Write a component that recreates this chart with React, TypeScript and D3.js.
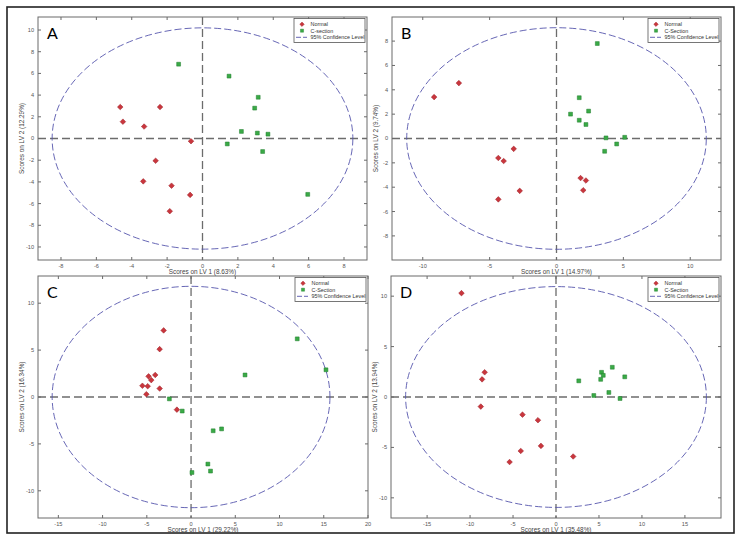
import React from "react";
import * as d3 from "d3";

// ---- data ----
const letters = ["A", "B", "C", "D"];
const xTitles = ["Scores on LV 1 (8.63%)", "Scores on LV 1 (14.97%)", "Scores on LV 1 (29.22%)", "Scores on LV 1 (35.48%)"];
const yTitles = ["Scores on LV 2 (12.29%)", "Scores on LV 2 (9.74%)", "Scores on LV 2 (16.34%)", "Scores on LV 2 (13.94%)"];
const legendLabels = [
  ["Normal", "C-section", "95% Confidence Level"],
  ["Normal", "C-Section", "95% Confidence Level"],
  ["Normal", "C-Section", "95% Confidence Level"],
  ["Normal", "C-Section", "95% Confidence Level"],
];

const xTicksA = [-8, -6, -4, -2, 0, 2, 4, 6, 8];
const yTicksA = [-10, -8, -6, -4, -2, 0, 2, 4, 6, 8, 10];
const xTicksB = [-10, -5, 0, 5, 10];
const yTicksB = [-8, -6, -4, -2, 0, 2, 4, 6, 8];
const xTicksC = [-15, -10, -5, 0, 5, 10, 15, 20];
const yTicksC = [-10, -5, 0, 5, 10];
const xTicksD = [-15, -10, -5, 0, 5, 10, 15];
const yTicksD = [-10, -5, 0, 5, 10];

const xDomains: [number, number][] = [[-9.3, 9.3], [-12.3, 12.3], [-17.3, 20], [-19.2, 19.2]];
const yDomains: [number, number][] = [[-11.2, 11.2], [-9.98, 9.98], [-12.9, 12.9], [-12, 12]];
const limits: [number, number][] = [[8.5, 10.2], [11.2, 9.1], [15.7, 11.8], [17.5, 10.95]];

const normalA: [number, number][] = [
  [-4.65, 2.9], [-4.5, 1.55], [-3.3, 1.1], [-2.4, 2.9], [-0.65, -0.25],
  [-2.65, -2.05], [-3.35, -3.95], [-1.75, -4.35], [-0.7, -5.2], [-1.85, -6.7],
];
const sectionA: [number, number][] = [
  [-1.35, 6.85], [1.5, 5.75], [3.15, 3.8], [2.95, 2.8], [2.2, 0.65],
  [3.1, 0.5], [3.7, 0.4], [1.4, -0.5], [3.4, -1.2], [5.95, -5.15],
];
const normalB: [number, number][] = [
  [-9.15, 3.4], [-7.3, 4.55], [-3.2, -0.85], [-4.35, -1.6], [-3.95, -1.85],
  [-2.75, -4.3], [-4.35, -5.0], [1.8, -3.25], [2.2, -3.45], [2.0, -4.25],
];
const sectionB: [number, number][] = [
  [3.05, 7.8], [1.7, 3.35], [2.4, 2.25], [1.05, 2.0], [1.7, 1.5],
  [2.2, 1.15], [3.7, 0.05], [5.1, 0.1], [4.5, -0.45], [3.6, -1.05],
];
const normalC: [number, number][] = [
  [-3.1, 7.1], [-3.55, 5.1], [-4.8, 2.2], [-4.05, 2.35], [-4.5, 1.8],
  [-5.5, 1.2], [-4.9, 1.15], [-3.55, 0.9], [-5.05, 0.3], [-1.6, -1.35],
];
const sectionC: [number, number][] = [
  [12.0, 6.2], [15.25, 2.9], [6.1, 2.35], [-2.45, -0.2], [-1.0, -1.5],
  [2.5, -3.6], [3.45, -3.4], [1.9, -7.15], [2.2, -7.9], [0.1, -8.05],
];
const normalD: [number, number][] = [
  [-11.0, 10.3], [-8.3, 2.45], [-8.6, 1.75], [-8.75, -0.95], [-3.9, -1.75],
  [-2.1, -2.3], [-1.75, -4.85], [-4.1, -5.35], [-5.4, -6.45], [2.0, -5.9],
];
const sectionD: [number, number][] = [
  [6.55, 2.95], [5.3, 2.45], [5.5, 2.15], [8.0, 2.0], [5.2, 1.75],
  [2.65, 1.6], [6.15, 0.45], [4.4, 0.15], [7.45, -0.15],
];

const normals = [normalA, normalB, normalC, normalD];
const sections = [sectionA, sectionB, sectionC, sectionD];
const xTickSets = [xTicksA, xTicksB, xTicksC, xTicksD];
const yTickSets = [yTicksA, yTicksB, yTicksC, yTicksD];

// ---- layout ----
const W = 742;
const H = 542;
const boxes = [
  { x: 38, y: 17, w: 329, h: 243 },
  { x: 392, y: 17, w: 329, h: 243 },
  { x: 38, y: 276, w: 330, h: 242 },
  { x: 391, y: 276, w: 330, h: 242 },
];

const red = "#c9363d";
const green = "#3aaa46";
const blue = "#5656ad";
const tickFont = "'Liberation Sans', Arial, sans-serif";

const diamond = d3.symbol().type(d3.symbolDiamond2).size(20)()!;
const square = d3.symbol().type(d3.symbolSquare).size(15)()!;

function Panel({ i }: { i: number }) {
  const b = boxes[i];
  const x = d3.scaleLinear().domain(xDomains[i]).range([b.x, b.x + b.w]);
  const y = d3.scaleLinear().domain(yDomains[i]).range([b.y + b.h, b.y]);
  const [ex, ey] = limits[i];
  const tl = 3;

  const lgW = 71;
  const lgH = 24;
  const lgX = b.x + b.w - 2 - lgW;
  const lgY = b.y + 1.5;

  return (
    <g>
      {/* zero lines */}
      <line x1={x(0)} x2={x(0)} y1={b.y} y2={b.y + b.h} stroke="#6c6c6c" strokeWidth={1.3} strokeDasharray="8,4" />
      <line x1={b.x} x2={b.x + b.w} y1={y(0)} y2={y(0)} stroke="#6c6c6c" strokeWidth={1.3} strokeDasharray="8,4" />

      {/* 95% confidence ellipse */}
      <ellipse cx={x(0)} cy={y(0)} rx={x(ex) - x(0)} ry={y(0) - y(ey)} fill="none" stroke={blue} strokeWidth={0.9} strokeDasharray="7,3" />

      {/* points */}
      {normals[i].map(([px, py], k) => (
        <path key={"n" + k} d={diamond} transform={`translate(${x(px)},${y(py)})`} fill={red} stroke="#9a1f27" strokeWidth={0.5} />
      ))}
      {sections[i].map(([px, py], k) => (
        <path key={"s" + k} d={square} transform={`translate(${x(px)},${y(py)})`} fill={green} stroke="#1f7d2c" strokeWidth={0.5} />
      ))}

      {/* axes box */}
      <rect x={b.x} y={b.y} width={b.w} height={b.h} fill="none" stroke="#6a6a6a" strokeWidth={1} />
      {xTickSets[i].map((t) => (
        <g key={"xt" + t}>
          <line x1={x(t)} x2={x(t)} y1={b.y + b.h} y2={b.y + b.h - tl} stroke="#6a6a6a" />
          <line x1={x(t)} x2={x(t)} y1={b.y} y2={b.y + tl} stroke="#6a6a6a" />
          <text x={x(t)} y={b.y + b.h + 8} textAnchor="middle" fontSize={5.6} fill="#555" fontFamily={tickFont}>{t}</text>
        </g>
      ))}
      {yTickSets[i].map((t) => (
        <g key={"yt" + t}>
          <line x1={b.x} x2={b.x + tl} y1={y(t)} y2={y(t)} stroke="#6a6a6a" />
          <line x1={b.x + b.w} x2={b.x + b.w - tl} y1={y(t)} y2={y(t)} stroke="#6a6a6a" />
          <text x={b.x - 4} y={y(t)} dy="0.35em" textAnchor="end" fontSize={5.6} fill="#555" fontFamily={tickFont}>{t}</text>
        </g>
      ))}

      {/* axis titles */}
      <text x={b.x + b.w / 2} y={b.y + b.h + 13.5} textAnchor="middle" fontSize={6.4} fill="#444" fontFamily={tickFont}>{xTitles[i]}</text>
      <text transform={`translate(${b.x - 14},${b.y + b.h / 2}) rotate(-90)`} textAnchor="middle" fontSize={6.4} fill="#444" fontFamily={tickFont}>{yTitles[i]}</text>

      {/* panel letter */}
      <text x={b.x + 9} y={b.y + 22} fontSize={16} fill="#000" fontFamily="Lato, 'Open Sans', sans-serif">{letters[i]}</text>

      {/* legend */}
      <g transform={`translate(${lgX},${lgY})`}>
        <rect width={lgW} height={lgH} fill="#fff" stroke="#555" strokeWidth={0.8} />
        <path d={diamond} transform="translate(8,5.8) scale(0.8)" fill={red} stroke="#9a1f27" strokeWidth={0.5} />
        <path d={square} transform="translate(8,12.2) scale(0.8)" fill={green} stroke="#1f7d2c" strokeWidth={0.5} />
        <line x1={2} x2={13} y1={18.8} y2={18.8} stroke={blue} strokeWidth={0.9} strokeDasharray="5,2" />
        {legendLabels[i].map((s, k) => (
          <text key={s} x={16.5} y={5.8 + k * 6.5} dy="0.35em" fontSize={5.4} fill="#333" fontFamily={tickFont}>{s}</text>
        ))}
      </g>
    </g>
  );
}

export default function App() {
  return (
    <div style={{ position: "absolute", left: 0, top: 0 }}>
      <svg width={W} height={H} style={{ display: "block", background: "#fff" }}>
        <rect x={7} y={7} width={727} height={526} fill="#fff" stroke="#222" strokeWidth={1.6} />
        {letters.map((_, i) => (
          <Panel key={i} i={i} />
        ))}
      </svg>
    </div>
  );
}
